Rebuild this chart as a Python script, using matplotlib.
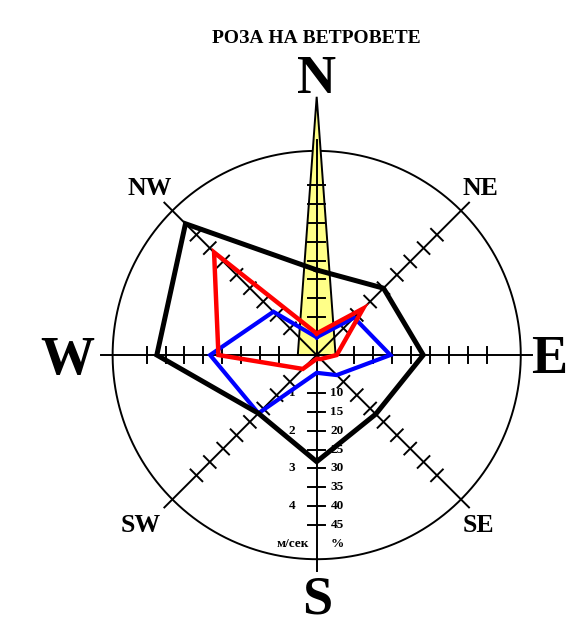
import numpy as np
import matplotlib.pyplot as plt

# Посоки и стойности (в %), прочетени от картинката
directions = ["N", "NE", "E", "SE", "S", "SW", "W", "NW"]
bearings = [0, 45, 90, 135, 180, 225, 270, 315]
black_vals = [22.5, 25.0, 28.2, 22.1, 28.2, 21.8, 42.3, 49.1]
red_vals = [5.7, 17.4, 5.3, 1.5, 1.0, 5.2, 26.0, 38.4]
blue_vals = [4.7, 14.0, 19.5, 7.5, 4.7, 21.8, 28.2, 16.2]
calm_tip = 68.3     # върхът на жълтия клин (N)
calm_half = 5.0     # половин ширина на основата

tick_pct = [10, 15, 20, 25, 30, 35, 40, 45]
tick_ms = ["1", "", "2", "", "3", "", "4", ""]
circle_r = 54.0
axis_len = 57.0

SERIF = "Liberation Serif"


def to_xy(vals, angles):
    th = np.radians(angles)
    r = np.asarray(vals, dtype=float)
    return r * np.sin(th), r * np.cos(th)


fig = plt.figure(figsize=(5.68, 6.25), dpi=100)
ax = fig.add_axes([0, 0, 1, 1])
# център в (316.7, 355) px, 3.78 px на 1 %
ax.set_xlim(-83.8, 66.5)
ax.set_ylim(-71.4, 93.9)
ax.axis("off")

# окръжност
t = np.linspace(0, 2 * np.pi, 400)
ax.plot(circle_r * np.cos(t), circle_r * np.sin(t), color="black", lw=1.4, zorder=2)

# оси с чертички
for b in bearings:
    th = np.radians(b)
    ux, uy = np.sin(th), np.cos(th)
    ax.plot([0, axis_len * ux], [0, axis_len * uy], color="black", lw=1.4, zorder=4)
    for r in tick_pct:
        cx, cy = r * ux, r * uy
        ax.plot([cx - 2.2 * uy, cx + 2.2 * uy], [cy + 2.2 * ux, cy - 2.2 * ux],
                color="black", lw=1.4, zorder=4)

# жълт клин на север
ax.fill([-calm_half, 0, calm_half], [0, calm_tip, 0], facecolor="#FFFF88",
        edgecolor="black", lw=1.4, zorder=3, joinstyle="miter")

# полигони
for vals, col, lw, z in [(blue_vals, "blue", 3.0, 5),
                         (red_vals, "red", 3.2, 6),
                         (black_vals, "black", 3.6, 7)]:
    x, y = to_xy(vals, bearings)
    ax.plot(np.append(x, x[0]), np.append(y, y[0]), color=col, lw=lw,
            solid_joinstyle="miter", zorder=z)

# надписи по южната ос
small = dict(family=SERIF, weight="bold", fontsize=9.5, ha="center", va="center")
for r, pct, ms in zip(tick_pct, tick_pct, tick_ms):
    ax.text(5.4, -r, str(pct), **small)
    if ms:
        ax.text(-6.5, -r, ms, **small)
ax.text(5.4, -50, "%", **small)
ax.text(-6.3, -50, "м/сек", **small)

# главни посоки
big = dict(family=SERIF, weight="bold", fontsize=39, ha="center", va="baseline")
ax.text(0, 69.3, "N", **big)
ax.text(-65.9, -5.1, "W", **big)
ax.text(61.5, -4.8, "E", **big)
ax.text(0, -68.3, "S", **big)

mid = dict(family=SERIF, weight="bold", fontsize=18.5, ha="center", va="baseline")
ax.text(-44.3, 42.3, "NW", **mid)
ax.text(43.2, 42.3, "NE", **mid)
ax.text(-46.7, -46.8, "SW", **mid)
ax.text(42.9, -46.8, "SE", **mid)

ax.text(0, 82.6, "РОЗА НА ВЕТРОВЕТЕ", family=SERIF, weight="bold", fontsize=14,
        ha="center", va="baseline")

fig.savefig("out.png", dpi=100)
